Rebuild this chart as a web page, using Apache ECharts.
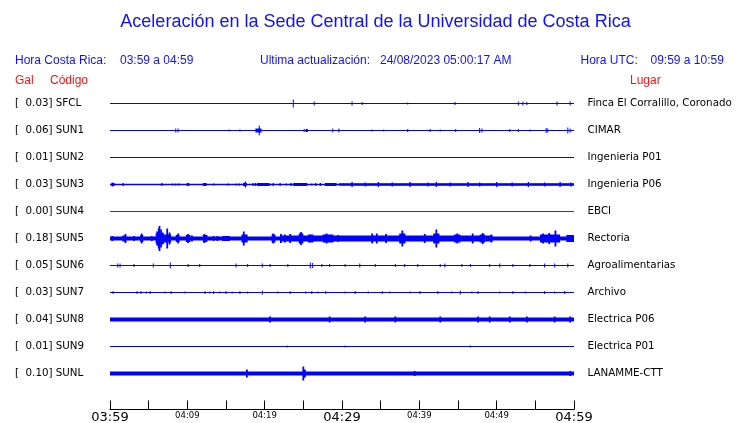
<!DOCTYPE html>
<html><head><meta charset="utf-8">
<script src="https://cdn.jsdelivr.net/npm/echarts@6/dist/echarts.min.js"></script>
<style>html,body{margin:0;padding:0;background:#fff}#c{width:740px;height:423px}</style>
</head><body><div id="c"></div><script>
// ---- data ----
const codes  = ['SFCL','SUN1','SUN2','SUN3','SUN4','SUN5','SUN6','SUN7','SUN8','SUN9','SUNL'];
const gals   = ['0.03','0.06','0.01','0.03','0.00','0.18','0.05','0.03','0.04','0.01','0.10'];
const places = ['Finca El Corralillo, Coronado','CIMAR','Ingenieria P01','Ingenieria P06','EBCI','Rectoria','Agroalimentarias','Archivo','Electrica P06','Electrica P01','LANAMME-CTT'];
const tickLabels = ['03:59','04:09','04:19','04:29','04:39','04:49','04:59'];
// entries: [minute, halfAmplitude] = spike ; [minuteFrom, minuteTo, halfAmplitude] = noise burst
const SFCL = [[23.7,4],[26.4,2],[31.3,2],[32.6,1.5],[38.5,1],[44.6,1.5],[52.8,2],[53.4,2],[53.9,1.5],[57.8,2],[59.5,2]];
const SUN1 = [[8.5,2],[8.8,2],[15.4,1],[16.8,1],[18.8,19.6,2],[19.3,5],[25.1,1.5],[25.3,25.6,1.5],[28.8,2],[29.6,2],[33.9,1],[35.4,1],[38.5,1.5],[41.4,1.5],[42.7,1],[44.7,1.5],[47.8,2.5],[48.1,2],[51.7,1.5],[52.8,1.5],[54.3,1],[56.4,2.5],[56.6,2],[59.2,3],[59.5,2]];
const SUN2 = [];
const SUN3 = [[0.2,0.6,1.5],[0.3,2],[1.7,1.5],[6.7,1.5],[8.1,1],[8.5,1],[8.9,1],[10.0,1.5],[10.2,1.5],[12.0,12.5,1.5],[13.4,1],[15.3,1],[16.3,1],[16.7,1],[17.2,17.7,1.5],[17.5,3],[18.5,1.5],[18.8,1.5],[19.0,20.6,1.5],[20.7,1],[21.1,1.5],[22.0,1.5],[22.8,1],[23.4,1.5],[23.7,25.5,1.5],[26.1,1],[26.6,1.5],[27.2,1.5],[27.8,29.3,1.5],[29.6,60,1.3],[31.3,2.5],[33.0,2],[34.7,2.5],[36.5,2],[38.8,2.5],[41.1,2],[42.2,2.5],[44.0,2],[46.3,2.5],[47.8,2],[50.0,2.5],[52.0,2],[54.1,2.5],[56.2,2],[58.2,2.5],[59.6,2]];
const SUN4 = [];
const SUN5 = [[0.3,2.5],[1.6,2.1,3],[2.0,4.5],[3.1,2.5],[3.9,4.3,3.5],[4.1,5],[5.4,2.5],[5.9,7.0,5],[6.1,7],[6.3,10],[6.4,12.5],[6.6,9],[6.8,6],[7.0,7.9,4],[7.4,10],[7.7,6],[8.5,9.0,3.5],[8.8,5],[9.8,10.4,3.5],[10.1,4.5],[10.6,3],[12.0,12.6,3.5],[12.2,4.5],[13.4,2.5],[13.9,2.5],[14.5,15.5,2.5],[17.0,17.8,4],[17.3,7],[20.9,21.4,4],[21.1,5],[22.0,49.5,3],[22.1,4.5],[22.6,4],[23.3,4.5],[24.4,25.0,5],[24.7,6.5],[25.6,26.3,4],[27.5,28.9,4],[28.0,5],[29.5,3.5],[33.9,5],[34.5,5],[35.7,4.5],[37.4,38.2,5],[37.8,8],[40.7,4.5],[41.8,42.6,5],[42.2,9],[44.5,45.3,4],[44.9,5],[46.9,5],[47.8,48.5,4],[48.2,5.5],[49.3,4],[54.4,3],[55.6,58.2,4],[56.0,5],[56.8,5.5],[57.6,8],[59.0,60,3.5]];
const SUN6 = [[1.0,2],[1.3,2],[3.1,1.5],[5.6,2],[7.8,3],[10.1,1.5],[11.6,1.5],[16.3,2],[17.8,1.5],[19.7,2],[20.7,1.5],[23.0,1.5],[25.9,3],[26.2,2.5],[27.4,1.5],[28.4,1.5],[30.4,1.5],[32.3,2],[34.3,1.5],[36.9,1.5],[38.1,1.5],[39.8,1.5],[42.7,1.5],[43.3,2],[45.5,1.5],[46.6,1.5],[49.1,1.5],[50.4,2],[52.1,1.5],[54.3,1.5],[56.2,2],[57.5,2],[59.2,2]];
const SUN7 = [[0.4,1.5],[3.5,1.5],[4.0,1.5],[4.7,1],[5.2,1.5],[7.1,1],[7.9,1.5],[9.7,1],[12.3,1.5],[12.9,1],[13.4,1.5],[14.2,1],[15.0,1.5],[15.8,1],[16.8,1.5],[17.8,1],[19.7,2],[21.7,1],[23.3,1.5],[25.3,1],[26.1,1.5],[26.9,1],[27.9,1.5],[30.4,1],[31.7,1.5],[33.4,1],[35.2,1.5],[36.2,1],[38.8,1],[40.1,1.5],[42.4,1.5],[44.2,1],[45.3,2],[46.8,1],[47.6,1.5],[50.4,1],[52.1,1.5],[53.7,1],[56.2,1.5],[57.5,1],[58.8,1.5]];
const SUN8 = [[20.7,3],[28.4,3],[33.0,3],[36.9,3],[42.7,3],[47.6,3],[49.1,3],[51.7,3],[53.9,3],[57.5,3],[59.5,3]];
const SUN9 = [[22.9,1],[30.4,1],[46.6,1]];
const SUNL = [[17.7,4],[25.0,7],[25.2,4],[39.4,2.5],[59.5,2.5]];

// ---- styles ----
const traces = [SFCL,SUN1,SUN2,SUN3,SUN4,SUN5,SUN6,SUN7,SUN8,SUN9,SUNL];
const lineWidths = [1,1,1,1.6,1,4,1,1,4,1,4];
const peakWidths = [1,1,1,1.3,1,1.8,1,1,1.8,1,1.8];
const traceColors = codes.map(c => c === 'SUN4' ? '#d00000' : '#0000ff');
const STEP = 27;
const BLUE = '#1010ff';

const peakData = [], bandData = [];
traces.forEach((tr, i) => tr.forEach(e => {
  if (e.length === 2) peakData.push([e[0], i, e[1]]);
  else bandData.push([e[0], e[1], i, e[2]]);
}));

const baseSeries = traces.map((tr, i) => ({
  type: 'line', silent: true, symbol: 'none', animation: false, z: 2,
  data: [[0, i * STEP], [60, i * STEP]],
  lineStyle: { color: traceColors[i], width: lineWidths[i] }
}));

const chart = echarts.init(document.getElementById('c'), null, { renderer: 'canvas' });
const hdrFont = '12px "Liberation Sans", Arial, sans-serif';
function txt(text, x, y, fill, font, align) {
  return { type: 'text', x: x, y: y, silent: true,
    style: { text: text, fill: fill, font: font || hdrFont, align: align || 'left', verticalAlign: 'middle' } };
}
chart.setOption({
  animation: false,
  backgroundColor: '#fff',
  grid: { left: 110, top: 76.5, width: 464, height: 333, containLabel: false, outerBoundsMode: 'none' },
  xAxis: {
    type: 'value', min: 0, max: 60, interval: 5, position: 'bottom',
    axisLine: { show: true, onZero: false, lineStyle: { color: '#000', width: 1 } },
    axisTick: { show: true, inside: true, length: 9, lineStyle: { color: '#000', width: 1 } },
    splitLine: { show: false },
    axisLabel: {
      margin: 1, color: '#000',
      formatter: v => {
        if (v % 10 !== 0) return '';
        const s = tickLabels[v / 10];
        return v % 30 === 0 ? '{b|' + s + '}' : '{s|' + s + '}';
      },
      rich: {
        b: { fontFamily: 'DejaVu Sans', fontSize: 13, lineHeight: 14, color: '#000' },
        s: { fontFamily: 'DejaVu Sans', fontSize: 8.5, lineHeight: 10, color: '#000' }
      }
    }
  },
  yAxis: [
    { type: 'value', min: -STEP, max: 306, interval: STEP, inverse: true, position: 'left',
      axisLine: { show: false }, axisTick: { show: false }, splitLine: { show: false },
      axisLabel: { align: 'left', margin: 95, color: '#000', fontFamily: 'DejaVu Sans', fontSize: 10.3, padding: [2, 0, 0, 0],
        formatter: v => { const i = Math.round(v / STEP); return (v >= 0 && v % STEP === 0 && i < codes.length) ? '[  ' + gals[i] + '] ' + codes[i] : ''; } } },
    { type: 'value', min: -STEP, max: 306, interval: STEP, inverse: true, position: 'right',
      axisLine: { show: false }, axisTick: { show: false }, splitLine: { show: false },
      axisLabel: { align: 'left', margin: 13.5, color: '#000', fontFamily: 'DejaVu Sans', fontSize: 10.3, padding: [2, 0, 0, 0],
        formatter: v => { const i = Math.round(v / STEP); return (v >= 0 && v % STEP === 0 && i < places.length) ? places[i] : ''; } } }
  ],
  series: baseSeries.concat([
    { type: 'custom', silent: true, z: 3, encode: { x: [0, 1], y: 2 }, data: bandData,
      renderItem: (p, api) => {
        const i = api.value(2), a = api.value(3);
        const p1 = api.coord([api.value(0), i * STEP - a]);
        const p2 = api.coord([api.value(1), i * STEP + a]);
        return { type: 'rect', shape: { x: p1[0], y: p1[1], width: p2[0] - p1[0], height: p2[1] - p1[1] },
          style: { fill: traceColors[i] } };
      } },
    { type: 'custom', silent: true, z: 4, encode: { x: 0, y: 1 }, data: peakData,
      renderItem: (p, api) => {
        const t = api.value(0), i = api.value(1), a = api.value(2);
        const p1 = api.coord([t, i * STEP - a]);
        const p2 = api.coord([t, i * STEP + a]);
        return { type: 'line', shape: { x1: p1[0], y1: p1[1], x2: p2[0], y2: p2[1] },
          style: { stroke: traceColors[i], lineWidth: peakWidths[i] } };
      } }
  ]),
  graphic: [
    txt('Aceleración en la Sede Central de la Universidad de Costa Rica', 375.5, 22, BLUE, '18px "Liberation Sans", Arial, sans-serif', 'center'),
    txt('Hora Costa Rica:', 15, 60.5, BLUE),
    txt('03:59 a 04:59', 120, 60.5, BLUE),
    txt('Ultima actualización:', 260, 60.5, BLUE),
    txt('24/08/2023 05:00:17 AM', 380, 60.5, BLUE),
    txt('Hora UTC:', 580.5, 60.5, BLUE),
    txt('09:59 a 10:59', 650.5, 60.5, BLUE),
    txt('Gal', 15, 80.5, '#ff1010'),
    txt('Código', 50, 80.5, '#ff1010'),
    txt('Lugar', 630, 80.5, '#ff1010')
  ]
});
</script></body></html>
